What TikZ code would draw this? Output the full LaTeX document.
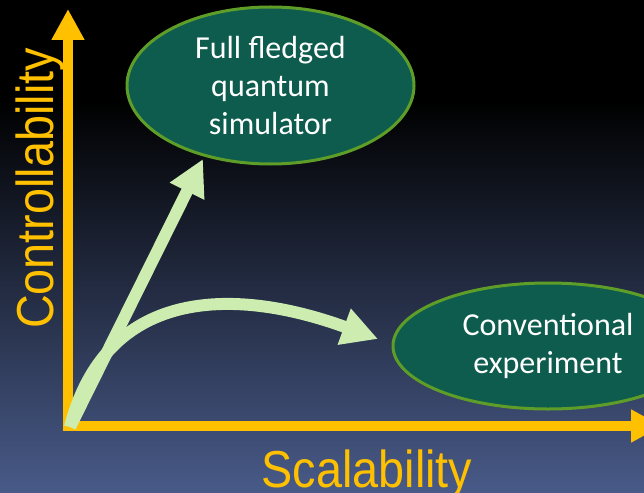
\documentclass[tikz,border=0pt]{standalone}
\usepackage{fontspec}
\usetikzlibrary{arrows.meta,shapes.geometric}
\newfontfamily\bubblefont{Carlito}
\newfontfamily\axisfont[FakeStretch=0.9]{Liberation Sans}
\definecolor{axisorange}{HTML}{FFC000}
\definecolor{arrowgreen}{HTML}{CCECB0}
\definecolor{bubblefill}{HTML}{0E5C4E}
\definecolor{bubbleedge}{HTML}{5E9E28}
\definecolor{bgblue}{HTML}{485A88}
\tikzset{
  axis/.style={draw=axisorange,line width=9.5pt,-{Triangle[width=31pt,length=31pt]}},
  trend/.style={draw=arrowgreen,line width=12pt,-{Triangle[width=36pt,length=36pt]}},
  bubble/.style={ellipse,fill=bubblefill,draw=bubbleedge,line width=3pt,inner sep=0pt,
    text=white,align=center,font=\bubblefont\fontsize{32}{38}\selectfont},
  axislabel/.style={text=axisorange,font=\axisfont\fontsize{52}{60}\selectfont,inner sep=0pt}
}
\begin{document}
\begin{tikzpicture}[x=1pt,y=-1pt]
\useasboundingbox (0,0) rectangle (644,492);
\fill[black] (0,0) rectangle (644,100);
\shade[top color=black,bottom color=bgblue] (0,100) rectangle (644,492);

\coordinate (origin) at (70,427);
\coordinate (ytop) at (68,9);
\coordinate (ybottom) at (68,430.5);
\coordinate (xleft) at (63.5,426);
\coordinate (xright) at (662,426);
\draw[axis] (ybottom) -- (ytop);
\draw[axis] (xleft) -- (xright);

\node[bubble,minimum width=287pt,minimum height=157pt] (fullsim) at (270.5,85.5) {Full fledged\\quantum\\simulator};
\node[bubble,minimum width=310pt,minimum height=126pt] (convexp) at (548,346) {Conventional\\experiment};

\coordinate (simtip) at (203,159);
\coordinate (exptip) at (378,339);
\draw[trend] (origin) -- (simtip);
\draw[trend] (origin) .. controls (105,290) and (230,285) .. (exptip);

\node[axislabel,anchor=base] (scal) at (367,487) {Scalability};
\node[axislabel,anchor=base,rotate=90] (ctrl) at (53,188.5) {Controllability};
\end{tikzpicture}
\end{document}
